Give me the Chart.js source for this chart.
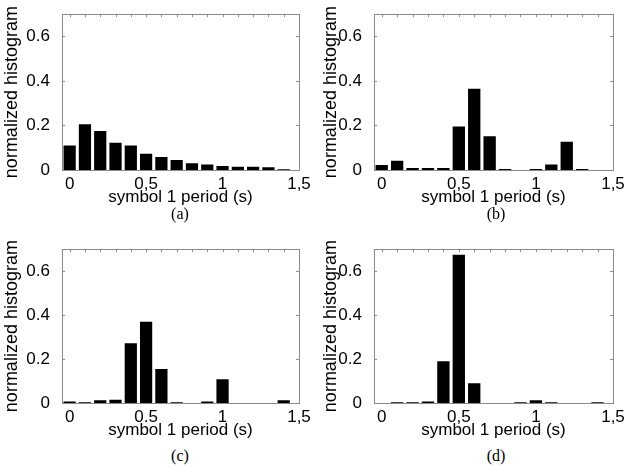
<!DOCTYPE html>
<html>
<head>
<meta charset="utf-8">
<script src="https://cdn.jsdelivr.net/npm/chart.js@4.4.1/dist/chart.umd.min.js"></script>
<style>
  body { margin: 0; background: #fff; }
  #wrap { position: relative; width: 634px; height: 475px; overflow: hidden; }
  canvas { position: absolute; }
  .cap { position: absolute; width: 60px; margin-left: -30px; text-align: center;
         font: 16px 'Liberation Serif', 'Times New Roman', serif; color: #000; line-height: 18px; }
</style>
</head>
<body>
<div id="wrap">
  <canvas id="ha" width="317" height="208" style="left:0;top:0"></canvas>
  <canvas id="hb" width="317" height="208" style="left:317px;top:0"></canvas>
  <canvas id="hc" width="317" height="206" style="left:0;top:235px"></canvas>
  <canvas id="hd" width="317" height="206" style="left:317px;top:235px"></canvas>
  <div class="cap" style="left:180px;top:205px">(a)</div>
  <div class="cap" style="left:496px;top:205px">(b)</div>
  <div class="cap" style="left:180px;top:447px">(c)</div>
  <div class="cap" style="left:496px;top:447px">(d)</div>
</div>
<script>
// bin centres (s)
var binCenters = [0, 0.1, 0.2, 0.3, 0.4, 0.5, 0.6, 0.7, 0.8, 0.9, 1.0, 1.1, 1.2, 1.3, 1.4];

// normalized histograms
var histA = [0.11, 0.205, 0.175, 0.122, 0.11, 0.073, 0.058, 0.045, 0.03, 0.025, 0.018, 0.015, 0.015, 0.012, 0.003];
var histB = [0.022, 0.042, 0.009, 0.009, 0.009, 0.195, 0.365, 0.152, 0.004, 0, 0.005, 0.025, 0.127, 0.005, 0];
var histC = [0.007, 0.003, 0.012, 0.015, 0.272, 0.37, 0.155, 0.003, 0, 0.007, 0.108, 0, 0, 0, 0.012];
var histD = [0, 0.003, 0.003, 0.007, 0.19, 0.675, 0.09, 0, 0, 0.003, 0.012, 0.003, 0, 0, 0.003];

var xTickValues = [0, 0.5, 1, 1.5];
var xTickLabels = ['0', '0,5', '1', '1,5'];
var xTickLabelsC = ['0', '0.5', '1', '1,5'];
var yTickValues = [0, 0.2, 0.4, 0.6];
var yTickLabels = ['0', '0.2', '0.4', '0.6'];
var xTitle = 'symbol 1 period (s)';
var yTitle = 'normalized histogram';

var FONT = "'Liberation Sans', Arial, Helvetica, sans-serif";

// matlab-like box with inward ticks
var boxPlugin = {
  id: 'box',
  afterDatasetsDraw: function(chart) {
    var ctx = chart.ctx, a = chart.chartArea;
    var xs = chart.scales.x, ys = chart.scales.y;
    ctx.save();
    ctx.strokeStyle = '#8a8a8a';
    ctx.lineWidth = 1;
    ctx.strokeRect(Math.round(a.left) + 0.5, Math.round(a.top) + 0.5,
                   Math.round(a.right - a.left), Math.round(a.bottom - a.top));
    ctx.beginPath();
    binCenters.forEach(function(v) {
      var px = Math.round(xs.getPixelForValue(v)) + 0.5;
      ctx.moveTo(px, a.top); ctx.lineTo(px, a.top + 3);
    });
    yTickValues.forEach(function(v) {
      if (v === 0) return;
      var py = Math.round(ys.getPixelForValue(v)) + 0.5;
      ctx.moveTo(a.left, py); ctx.lineTo(a.left + 3, py);
      ctx.moveTo(a.right, py); ctx.lineTo(a.right - 3, py);
    });
    ctx.stroke();
    ctx.restore();
  }
};

function makeHist(id, values, xLabels, yAxisW, padRight, titlePad) {
  new Chart(id, {
    type: 'bar',
    data: {
      datasets: [{
        data: binCenters.map(function(x, i) { return { x: x, y: values[i] }; }),
        backgroundColor: '#000',
        borderWidth: 0,
        barPercentage: 0.8,
        categoryPercentage: 1
      }]
    },
    options: {
      responsive: false,
      maintainAspectRatio: false,
      animation: false,
      layout: { padding: { left: 0, top: 13, right: padRight, bottom: 0 } },
      plugins: { legend: { display: false }, tooltip: { enabled: false } },
      scales: {
        x: {
          type: 'linear',
          min: -0.05,
          max: 1.5,
          offset: false,
          grid: { display: false },
          border: { display: false },
          afterBuildTicks: function(s) { s.ticks = xTickValues.map(function(v) { return { value: v }; }); },
          afterFit: function(s) { s.height = 38; },
          ticks: {
            autoSkip: false,
            maxRotation: 0,
            padding: -4,
            color: '#000',
            font: { family: FONT, size: 17 },
            callback: function(v, i) { return xLabels[i]; }
          },
          title: { display: true, text: xTitle, color: '#000', padding: 0, font: { family: FONT, size: 17 } }
        },
        y: {
          min: 0,
          max: 0.7,
          grid: { display: false },
          border: { display: false },
          afterBuildTicks: function(s) { s.ticks = yTickValues.map(function(v) { return { value: v }; }); },
          afterFit: function(s) { s.width = yAxisW; },
          ticks: {
            padding: 4,
            color: '#000',
            font: { family: FONT, size: 17 },
            callback: function(v, i) { return yTickLabels[i]; }
          },
          title: { display: true, text: yTitle, color: '#000', padding: { top: titlePad, bottom: 0 }, font: { family: FONT, size: 18 } }
        }
      }
    },
    plugins: [boxPlugin]
  });
}

makeHist('ha', histA, xTickLabels, 62, 18, 1);
makeHist('hb', histB, xTickLabels, 57, 21, 3);
makeHist('hc', histC, xTickLabelsC, 62, 18, 1);
makeHist('hd', histD, xTickLabels, 57, 21, 3);
</script>
</body>
</html>
